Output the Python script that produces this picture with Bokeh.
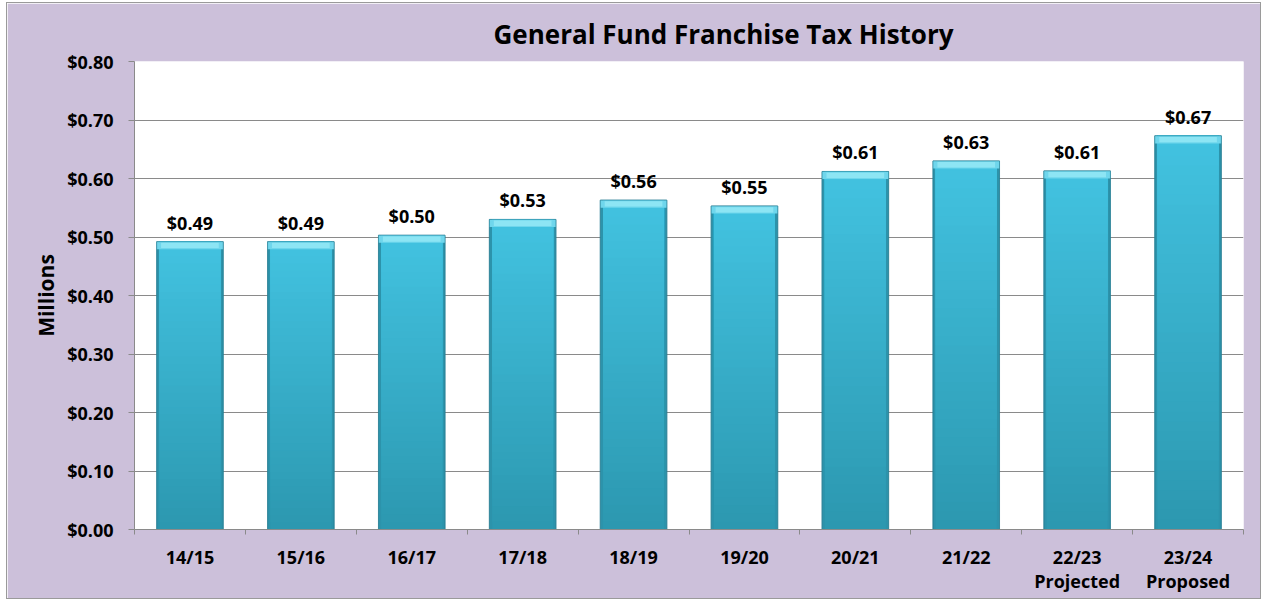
from bokeh.plotting import figure
from bokeh.models import Range1d, FixedTicker, NumeralTickFormatter, Title, ColumnDataSource
from bokeh.core.properties import value
from bokeh.embed import file_html
from bokeh.resources import INLINE

# ---- data ----
categories = ["14/15", "15/16", "16/17", "17/18", "18/19", "19/20", "20/21", "21/22",
              "22/23\nProjected", "23/24\nProposed"]
revenue_millions = [0.492, 0.492, 0.503, 0.530, 0.563, 0.553, 0.612, 0.630, 0.613, 0.673]
y_ticks = [0.0, 0.1, 0.2, 0.3, 0.4, 0.5, 0.6, 0.7, 0.8]
title_text = "General Fund Franchise Tax History"
y_label = "Millions"

FONT = "Open Sans"
LAVENDER = "#CCC0DA"
GRID = "#8A8A8A"

n = len(categories)
centers = [2 * i + 1 for i in range(n)]
bounds = [2 * i for i in range(n + 1)]

p = figure(width=1255, height=597, output_backend="svg", toolbar_location=None,
           x_range=Range1d(0, 2 * n), y_range=Range1d(0, 0.8),
           min_border_left=127, min_border_right=19, min_border_top=56, min_border_bottom=71,
           background_fill_color="white", border_fill_color=LAVENDER,
           outline_line_color=None)
p.styles = {"border": "1px solid #9A9A9A", "margin-left": "6px", "margin-top": "2px"}

# title
t = Title(text=title_text, align="left", offset=359, standoff=20,
          text_font=FONT, text_font_size="26px", text_font_style="bold", text_color="black")
p.title = t

BAR_W = 1.2
INNER_W = 1.1

# base (darker sides)
p.vbar(x=centers, top=revenue_millions, width=BAR_W, fill_color="#2C93AB",
       line_color="#2A7F93", line_alpha=0.7, line_width=1)

# inner vertical gradient, each layer covers from its start up to the bar's top
N = 40
dark = (0x2C, 0x98, 0xB0)
light = (0x42, 0xC2, 0xE0)
for k in range(N):
    f = k / (N - 1)
    col = "#%02x%02x%02x" % tuple(int(round(d + (l - d) * f)) for d, l in zip(dark, light))
    src = ColumnDataSource(dict(x=centers,
                                top=revenue_millions,
                                bottom=[v * k / N for v in revenue_millions]))
    p.vbar(x="x", top="top", bottom="bottom", width=INNER_W, source=src,
           fill_color=col, line_color=None)

# top bevel highlight
p.vbar(x=centers, top=revenue_millions, bottom=[v - 0.013 for v in revenue_millions],
       width=BAR_W, fill_color="#6FD6EC", line_color=None)
p.vbar(x=centers, top=[v - 0.002 for v in revenue_millions],
       bottom=[v - 0.011 for v in revenue_millions],
       width=INNER_W - 0.06, fill_color="#8DE5F4", line_color=None)
p.vbar(x=centers, top=revenue_millions, width=BAR_W, fill_color=None,
       line_color="#2A8197", line_alpha=0.55, line_width=1)

# value labels
labels = ["$%.2f" % v for v in revenue_millions]
p.text(x=centers, y=revenue_millions, text=labels, text_align="center",
       text_baseline="alphabetic", y_offset=-19, text_font=value(FONT),
       text_font_size="18px", text_font_style="bold", text_color="black")

# grid
p.xgrid.grid_line_color = None
p.ygrid.ticker = FixedTicker(ticks=y_ticks)
p.ygrid.grid_line_color = GRID
p.ygrid.grid_line_width = 1
p.ygrid.level = "underlay"

# y axis
ya = p.yaxis[0]
ya.ticker = FixedTicker(ticks=y_ticks)
ya.formatter = NumeralTickFormatter(format="$0.00")
ya.major_label_text_font = FONT
ya.major_label_text_font_size = "18px"
ya.major_label_text_font_style = "bold"
ya.major_label_text_color = "black"
ya.major_label_standoff = 15
ya.major_tick_out = 6
ya.major_tick_in = 0
ya.minor_tick_line_color = None
ya.major_tick_line_color = GRID
ya.axis_line_color = GRID
ya.axis_label = y_label
ya.axis_label_text_font = FONT
ya.axis_label_text_font_size = "21px"
ya.axis_label_text_font_style = "bold"
ya.axis_label_text_color = "black"
ya.axis_label_standoff = 4

# x axis
xa = p.xaxis[0]
xa.ticker = FixedTicker(ticks=centers, minor_ticks=bounds)
xa.major_label_overrides = {c: lab for c, lab in zip(centers, categories)}
xa.major_tick_line_color = None
xa.major_tick_out = 0
xa.major_tick_in = 0
xa.minor_tick_line_color = GRID
xa.minor_tick_out = 5
xa.minor_tick_in = 0
xa.axis_line_color = GRID
xa.major_label_text_font = FONT
xa.major_label_text_font_size = "18px"
xa.major_label_text_font_style = "bold"
xa.major_label_text_color = "black"
xa.major_label_text_line_height = 1.02
xa.major_label_standoff = 10

open("out.html", "w").write(file_html(p, INLINE))
